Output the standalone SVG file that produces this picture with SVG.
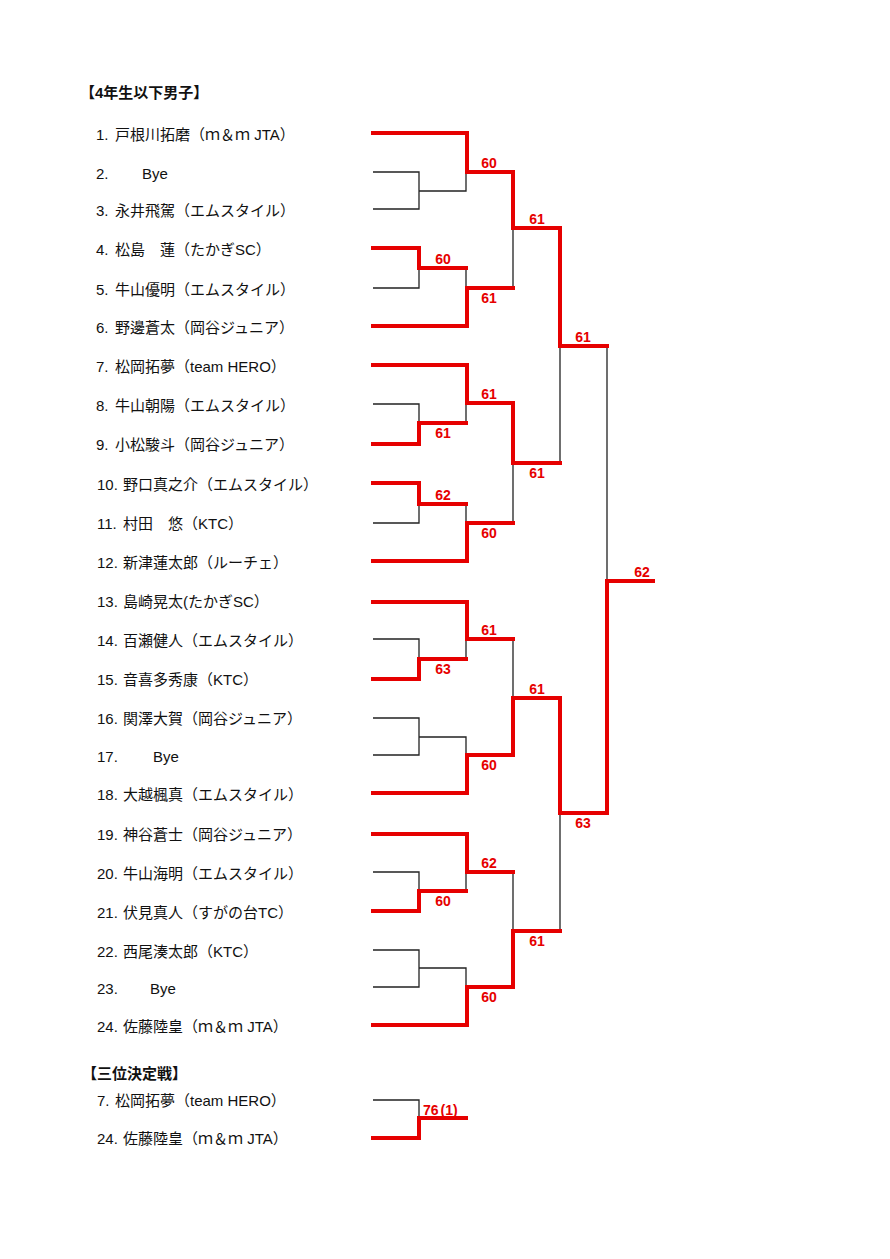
<svg xmlns="http://www.w3.org/2000/svg" width="890" height="1259" viewBox="0 0 890 1259">
<style>
.t{font-family:"Liberation Sans","Noto Sans CJK JP",sans-serif;font-size:15px;fill:#111}
.h{font-weight:bold}
.s{font-family:"Liberation Sans",Arial,sans-serif;font-size:14px;font-weight:bold;fill:#e60000;text-anchor:middle}
.r{fill:none;stroke:#e60000;stroke-width:4;stroke-linejoin:miter;stroke-linecap:square}
.b{fill:none;stroke:#222;stroke-width:1.3}
</style>
<rect width="890" height="1259" fill="#fff"/>
<text class="t h" x="80" y="98">【4年生以下男子】</text>
<g id="players">
<text id="p1" class="t" y="140"><tspan x="96">1.</tspan><tspan x="115">戸根川拓磨（ｍ＆ｍ JTA）</tspan></text>
<text id="p2" class="t" y="179"><tspan x="96">2.</tspan><tspan x="142">Bye</tspan></text>
<text id="p3" class="t" y="216"><tspan x="96">3.</tspan><tspan x="115">永井飛駕（エムスタイル）</tspan></text>
<text id="p4" class="t" y="255"><tspan x="96">4.</tspan><tspan x="115">松島　蓮（たかぎSC）</tspan></text>
<text id="p5" class="t" y="295"><tspan x="96">5.</tspan><tspan x="115">牛山優明（エムスタイル）</tspan></text>
<text id="p6" class="t" y="333"><tspan x="96">6.</tspan><tspan x="115">野邊蒼太（岡谷ジュニア）</tspan></text>
<text id="p7" class="t" y="372"><tspan x="96">7.</tspan><tspan x="115">松岡拓夢（team HERO）</tspan></text>
<text id="p8" class="t" y="411"><tspan x="96">8.</tspan><tspan x="115">牛山朝陽（エムスタイル）</tspan></text>
<text id="p9" class="t" y="450"><tspan x="96">9.</tspan><tspan x="115">小松駿斗（岡谷ジュニア）</tspan></text>
<text id="p10" class="t" y="490"><tspan x="97">10.</tspan><tspan x="123">野口真之介（エムスタイル）</tspan></text>
<text id="p11" class="t" y="529"><tspan x="97">11.</tspan><tspan x="123">村田　悠（KTC）</tspan></text>
<text id="p12" class="t" y="568"><tspan x="97">12.</tspan><tspan x="123">新津蓮太郎（ルーチェ）</tspan></text>
<text id="p13" class="t" y="607"><tspan x="97">13.</tspan><tspan x="123">島崎晃太(たかぎSC）</tspan></text>
<text id="p14" class="t" y="646"><tspan x="97">14.</tspan><tspan x="123">百瀬健人（エムスタイル）</tspan></text>
<text id="p15" class="t" y="685"><tspan x="97">15.</tspan><tspan x="123">音喜多秀康（KTC）</tspan></text>
<text id="p16" class="t" y="724"><tspan x="97">16.</tspan><tspan x="123">関澤大賀（岡谷ジュニア）</tspan></text>
<text id="p17" class="t" y="762"><tspan x="97">17.</tspan><tspan x="153">Bye</tspan></text>
<text id="p18" class="t" y="800"><tspan x="97">18.</tspan><tspan x="123">大越楓真（エムスタイル）</tspan></text>
<text id="p19" class="t" y="840"><tspan x="97">19.</tspan><tspan x="123">神谷蒼士（岡谷ジュニア）</tspan></text>
<text id="p20" class="t" y="879"><tspan x="97">20.</tspan><tspan x="123">牛山海明（エムスタイル）</tspan></text>
<text id="p21" class="t" y="918"><tspan x="97">21.</tspan><tspan x="123">伏見真人（すがの台TC）</tspan></text>
<text id="p22" class="t" y="957"><tspan x="97">22.</tspan><tspan x="123">西尾湊太郎（KTC）</tspan></text>
<text id="p23" class="t" y="994"><tspan x="97">23.</tspan><tspan x="150">Bye</tspan></text>
<text id="p24" class="t" y="1032"><tspan x="97">24.</tspan><tspan x="123">佐藤陸皇（ｍ＆ｍ JTA）</tspan></text>
</g>
<text class="t h" x="82" y="1079">【三位決定戦】</text>
<g id="third-players">
<text id="t7" class="t" y="1106"><tspan x="97">7.</tspan><tspan x="115">松岡拓夢（team HERO）</tspan></text>
<text id="t24" class="t" y="1144"><tspan x="97">24.</tspan><tspan x="123">佐藤陸皇（ｍ＆ｍ JTA）</tspan></text>
</g>
<g id="connectors">
<path class="b" d="M373,172H419V209H373M419,191H466V172"/>
<path class="b" d="M373,288H419V268M466,268V288M513,228V288"/>
<path class="b" d="M373,404H419V423M466,403V423"/>
<path class="b" d="M373,523H419V504M466,504V523M513,463V523M560,346V463M607,346V581"/>
<path class="b" d="M373,639H419V659M466,639V659M513,639V698"/>
<path class="b" d="M373,718H419V755H373M419,737H466V755"/>
<path class="b" d="M373,872H419V891M466,872V891M513,872V931M560,813V931"/>
<path class="b" d="M373,950H419V987H373M419,968H466V987"/>
<path class="b" d="M373,1100H419V1118"/>
<path class="r" d="M373,133H467V172H513V228H560V346H607"/>
<path class="r" d="M373,248H419V268H466"/>
<path class="r" d="M373,326H467V288H513"/>
<path class="r" d="M373,365H467V403H513V463H560"/>
<path class="r" d="M373,444H419V423H466"/>
<path class="r" d="M373,483H419V504H466"/>
<path class="r" d="M373,561H467V523H513"/>
<path class="r" d="M373,602H467V639H513"/>
<path class="r" d="M373,679H419V659H466"/>
<path class="r" d="M373,793H467V755H513V698H560V813H607V581H653"/>
<path class="r" d="M373,834H467V872H513"/>
<path class="r" d="M373,911H419V891H466"/>
<path class="r" d="M373,1025H467V987H513V931H560"/>
<path class="r" d="M373,1138H419V1118H466"/>
</g>
<g id="scores">
<text class="s" x="489" y="168">60</text>
<text class="s" x="537" y="224">61</text>
<text class="s" x="443" y="264">60</text>
<text class="s" x="489" y="303">61</text>
<text class="s" x="583" y="342">61</text>
<text class="s" x="489" y="399">61</text>
<text class="s" x="443" y="438">61</text>
<text class="s" x="537" y="478">61</text>
<text class="s" x="443" y="500">62</text>
<text class="s" x="489" y="538">60</text>
<text class="s" x="642" y="577">62</text>
<text class="s" x="489" y="635">61</text>
<text class="s" x="443" y="674">63</text>
<text class="s" x="537" y="694">61</text>
<text class="s" x="489" y="770">60</text>
<text class="s" x="583" y="828">63</text>
<text class="s" x="489" y="868">62</text>
<text class="s" x="443" y="906">60</text>
<text class="s" x="537" y="946">61</text>
<text class="s" x="489" y="1002">60</text>
<text class="s" x="423" y="1115" style="text-anchor:start">76<tspan dx="2">(1)</tspan></text>
</g>
</svg>
